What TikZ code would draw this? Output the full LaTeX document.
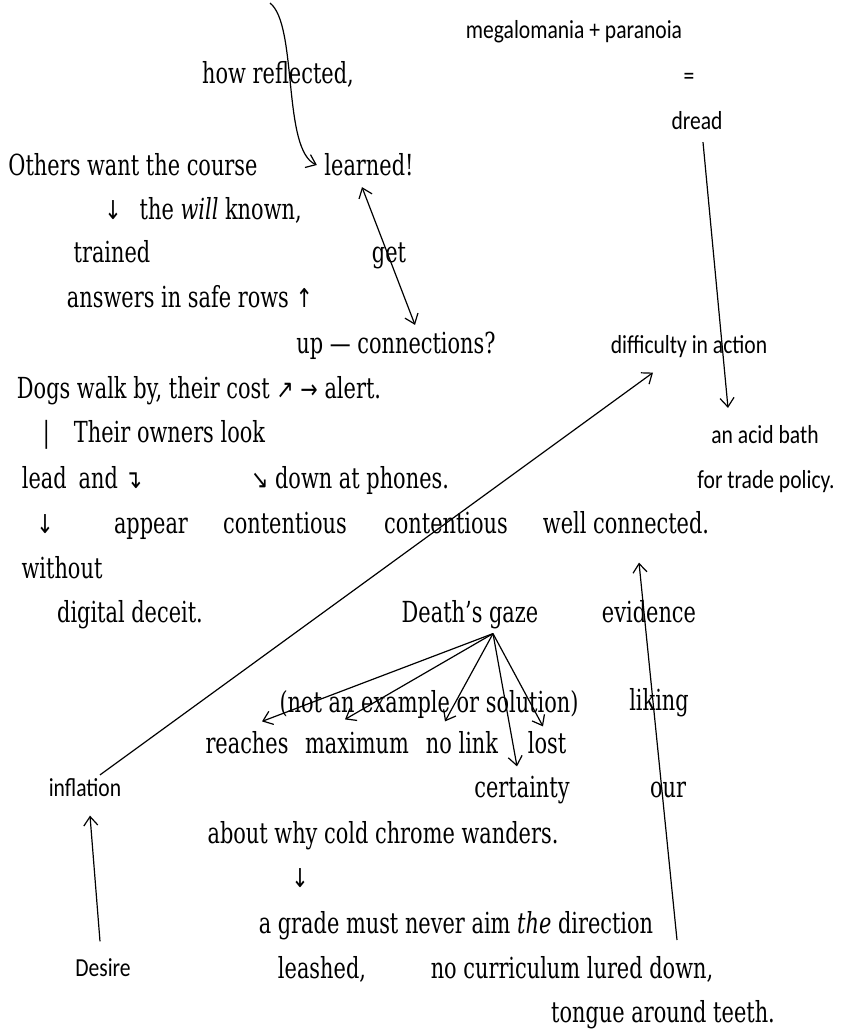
\documentclass[tikz,border=0pt]{standalone}
\usepackage{fontspec}
\setmainfont{DejaVu Serif}[FakeStretch=0.72]
\newfontfamily\notefont{Carlito}[FakeStretch=0.83]
\newfontfamily\arrowfont{DejaVu Sans}[FakeStretch=0.8]
\newcommand{\arw}[1]{{\arrowfont\fontsize{26pt}{26pt}\selectfont #1}}
\usepackage{tikz}
\usetikzlibrary{arrows.meta,calc,positioning}
\tikzset{>={Straight Barb[length=9pt,width=14pt]}}

\begin{document}
\begin{tikzpicture}[x=1pt, y=-1pt, line width=1.2pt,
    word/.style={font=\fontsize{29pt}{30pt}\selectfont, inner sep=0pt, text height=24pt, text depth=3pt},
    note/.style={font=\notefont\fontsize{26pt}{27pt}\selectfont, inner sep=0pt, text height=20pt, text depth=3pt}]
                        \useasboundingbox (0,0) rectangle (841,1029);

                        % right hand column
                        \node[note] (mega) at (574,30) {megalomania + paranoia};
                        \node[note] (eq) at (689,76) {=};
                        \node[note] (dread) at (697,121) {dread};
                        \node[note] (diff) at (689,345) {difficulty in action};
                        \node[note] (acid) at (765,435) {an acid bath};
                        \node[note] (trade) at (766,480) {for trade policy.};
                        \node[note] (infl) at (85,788) {inflation};
                        \node[note] (desire) at (103,968) {Desire};

                        % upper block
                        \node[word] (how) at (278,73) {how reflected,};
                        \node[word] (others) at (133,165) {Others want the course};
                        \node[word] (learned) at (369,165) {learned!};
                        \node[word] (known) at (203,209) {\arw{↓}\hspace{18pt}the \textit{will} known,};
                        \node[word] (trained) at (112,252) {trained};
                        \node[word] (get) at (389,252) {get};
                        \node[word] (answers) at (190,297) {answers in safe rows \arw{↑}};
                        \node[word] (conn) at (396,343) {up — connections?};
                        \node[word] (dogs) at (199,388) {Dogs walk by, their cost \arw{↗ →} alert.};
                        \node[word] (owners) at (154,432) {|\hspace{24pt}Their owners look};
                        \node[word] (lead) at (82,478) {lead\hspace{12pt}and \arw{↴}};
                        \node[word] (phones) at (350,478) {\arw{↘} down at phones.};
                        \node[word] (darrA) at (45,523) {\arw{↓}};
                        \node[word] (appear) at (151,523) {appear};
                        \node[word] (contA) at (285,523) {contentious};
                        \node[word] (contB) at (446,523) {contentious};
                        \node[word] (well) at (626,523) {well connected.};
                        \node[word] (without) at (62,568) {without};
                        \node[word] (deceit) at (130,612) {digital deceit.};

                        % lower block
                        \node[word] (gaze) at (470,612) {Death’s gaze};
                        \node[word] (evid) at (649,612) {evidence};
                        \node[word] (notex) at (429,702) {(not an example or solution)};
                        \node[word] (liking) at (659,700) {liking};
                        \node[word] (reaches) at (247,743) {reaches};
                        \node[word] (maximum) at (357,743) {maximum};
                        \node[word] (nolink) at (462,743) {no link};
                        \node[word] (lost) at (547,743) {lost};
                        \node[word] (certainty) at (522,787) {certainty};
                        \node[word] (our) at (668,787) {our};
                        \node[word] (about) at (383,833) {about why cold chrome wanders.};
                        \node[word] (darrB) at (300,877) {\arw{↓}};
                        \node[word] (grade) at (456,923) {a grade must never aim \textit{the} direction};
                        \node[word] (leashed) at (322,968) {leashed,};
                        \node[word] (curric) at (572,968) {no curriculum lured down,};
                        \node[word] (tongue) at (663,1012) {tongue around teeth.};

                        % connectors
                        \coordinate (top) at (270,3);
                        \coordinate (tail) at (677,940);
                        \coordinate (gz) at ([xshift=23pt,yshift=-7.5pt]gaze.south);
                        \draw[->] (top) .. controls (298,25) and (282,150) .. ([xshift=-7pt]learned.west);
                        \draw[<->] ([xshift=-7pt,yshift=-8pt]learned.south) -- ([xshift=19pt,yshift=4pt]conn.north);
                        \draw[->] ([xshift=6pt,yshift=-9pt]dread.south) -- ([xshift=-37pt,yshift=15pt]acid.north);
                        \draw[->] ([xshift=15pt,yshift=1pt]infl.north) -- ([xshift=-36pt,yshift=-15.5pt]diff.south);
                        \draw[->] ([xshift=-3pt,yshift=14.5pt]desire.north) -- ([xshift=5pt,yshift=-15.5pt]infl.south);
                        \draw[->] (tail) -- ([xshift=13pt,yshift=-25.5pt]well.south);

                        \foreach \t/\dx/\dy in {reaches/15/7.5, maximum/-12/9.5, nolink/-17/7.5, certainty/-5/6.5, lost/-4/2.5}
                        {
                        \draw[->] (gz) -- ([xshift=\dx pt,yshift=\dy pt]\t.north);
                        }
                    \end{tikzpicture}
\end{document}
